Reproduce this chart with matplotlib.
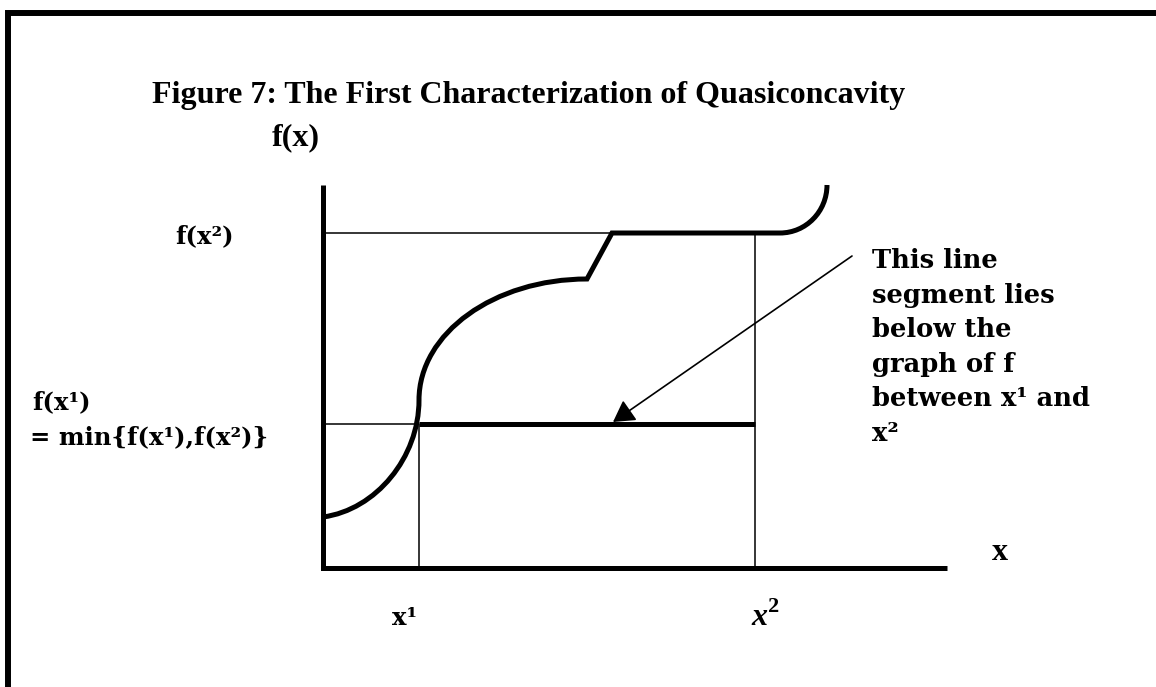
import matplotlib
matplotlib.use('Agg')
import matplotlib.pyplot as plt
import numpy as np
from matplotlib.path import Path
from matplotlib.patches import PathPatch

# Points marked on the axes
x1, x2 = 0.96, 4.32
f_x1, f_x2 = 1.44, 3.35

# Axis extents
y_axis_top = 3.83
x_axis_end = 6.24

# Graph of f: knots, and for each piece between two knots
# either None (straight) or the corner where the end tangents of the bend meet
f_knots_x = [0.00, 0.96, 2.64, 2.89, 4.57, 5.04]
f_knots_y = [0.51, 1.68, 2.89, 3.35, 3.35, 3.83]
f_corners = [(0.96, 0.64), (0.96, 2.89), None, None, (5.04, 3.35)]

# Arrow from the note down to the segment
arrow_tail = (5.29, 3.12)
arrow_tip = (2.90, 1.46)

title = 'Figure 7: The First Characterization of Quasiconcavity'
note_lines = ['This line', 'segment lies', 'below the', 'graph of f',
              'between x\u00b9 and', 'x\u00b2']

TIMES = 'Liberation Serif'
PALA = 'DejaVu Serif'

plt.rcParams['mathtext.fontset'] = 'custom'
plt.rcParams['mathtext.bf'] = 'Liberation Serif:bold'

fig = plt.figure(figsize=(11.56, 6.87), dpi=100)
ax = fig.add_axes([0, 0, 1, 1])
ax.set_xlim(-3.23, 8.33)
ax.set_ylim(-1.19, 5.68)
ax.axis('off')

# frame around the page (top and left only)
ax.plot([-3.15, -3.15, 8.40], [-1.30, 5.55, 5.55], color='black', lw=4.3,
        solid_joinstyle='miter', solid_capstyle='butt')

# thin guide lines
thin = dict(color='black', lw=1.1)
ax.plot([0, x2, x2], [f_x2, f_x2, 0], **thin)
ax.plot([0, x1, x1], [f_x1, f_x1, 0], **thin)

# axes
ax.plot([0, 0, x_axis_end], [y_axis_top, 0, 0], color='black', lw=3.6,
        solid_joinstyle='miter', solid_capstyle='butt')

# chord between x1 and x2
ax.plot([x1, x2], [f_x1, f_x1], color='black', lw=3.6, solid_capstyle='butt')

# graph of f
K = 0.5523
verts = [(f_knots_x[0], f_knots_y[0])]
codes = [Path.MOVETO]
for i, corner in enumerate(f_corners):
    p0 = np.array([f_knots_x[i], f_knots_y[i]])
    p3 = np.array([f_knots_x[i + 1], f_knots_y[i + 1]])
    if corner is None:
        verts.append(tuple(p3))
        codes.append(Path.LINETO)
    else:
        c = np.array(corner)
        verts += [tuple(p0 + K * (c - p0)), tuple(p3 + K * (c - p3)), tuple(p3)]
        codes += [Path.CURVE4] * 3
ax.add_patch(PathPatch(Path(verts, codes), fill=False, lw=3.6,
                       capstyle='butt', joinstyle='miter'))

# arrow
ax.annotate('', xy=arrow_tip, xytext=arrow_tail,
            arrowprops=dict(arrowstyle='-|>,head_length=13,head_width=7.5',
                            mutation_scale=1, color='black', lw=1.2,
                            shrinkA=0, shrinkB=0))

# texts
ax.text(-1.71, 4.65, title, family=TIMES, weight='bold', size=23, va='baseline')
ax.text(-0.51, 4.23, 'f(x)', family=TIMES, weight='bold', size=23, va='baseline')
ax.text(6.69, 0.15, 'x', family=TIMES, weight='bold', size=23, va='center')
ax.text(4.28, -0.49, 'x$^{\\mathbf{2}}$', family=TIMES, weight='bold',
        style='italic', size=23, va='center')

ax.text(-1.48, 3.32, 'f(x\u00b2)', family=PALA, weight='bold', size=17.5,
        va='center')
ax.text(-2.91, 1.66, 'f(x\u00b9)', family=PALA, weight='bold', size=17.5,
        va='center')
ax.text(-2.93, 1.31, '= min{f(x\u00b9),f(x\u00b2)}', family=PALA, weight='bold',
        size=17.5, va='center')
ax.text(0.69, -0.50, 'x\u00b9', family=PALA, weight='bold', size=17.5,
        va='center')

for i, line in enumerate(note_lines):
    ax.text(5.49, 3.00 - i * 0.346, line, family=PALA, weight='bold', size=18.5,
            va='baseline')

fig.savefig('out.png', dpi=100)
